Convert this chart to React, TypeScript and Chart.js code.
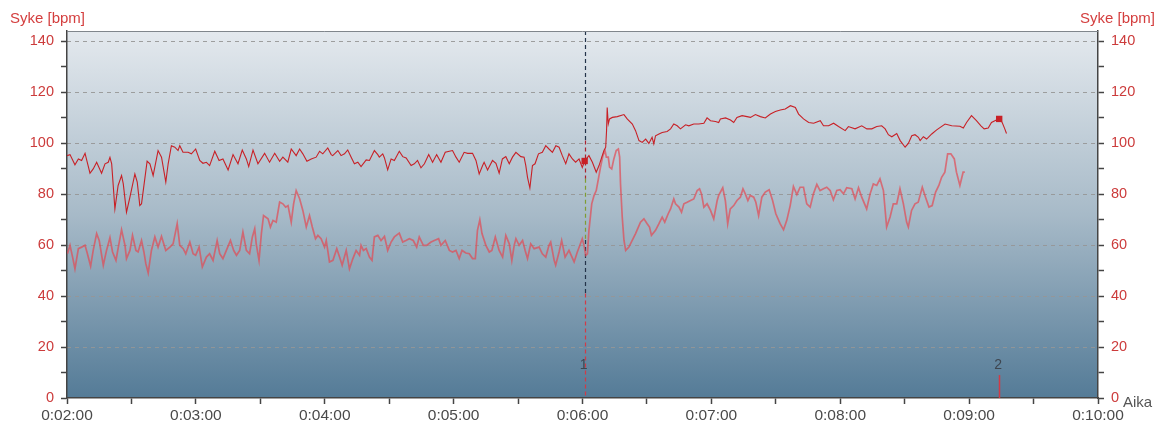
import React, { useEffect, useRef } from "react";
import { Chart, registerables } from "chart.js";
Chart.register(...registerables);

// Upper heart-rate trace (seconds, bpm)
const upperTimes = [
  120, 121.4, 123.7, 125.3, 126.8, 128.4, 130.7, 132.2, 133.8, 136.1, 137.7, 139.2, 140, 140.8, 142.3, 143.8,
  145.4, 146.2, 147.7, 149.3, 151.6, 152.7, 153.9, 154.7, 157.3, 158.6, 160.1, 162.4, 164, 166, 167.1, 168.6,
  170.2, 171.7, 172.5, 174, 176.4, 177.9, 179.9, 181.8, 183.3, 184.9, 186.4, 188.8, 190.8, 192.6, 195, 197.3,
  199.6, 201.6, 203.5, 204.6, 206.6, 208.9, 212, 214.3, 216.7, 219, 220.5, 222.8, 224.4, 226.7, 228.3, 229.8,
  231.7, 233.7, 236, 237.6, 239.1, 241.4, 243, 243.7, 246.1, 247.6, 249.2, 250.7, 252.3, 253.8, 255.4, 256.9,
  259.3, 260.8, 263.1, 264.7, 265.4, 267, 267.8, 269.3, 270.9, 272.4, 274.7, 276.3, 277.9, 280.2, 281.7, 283.2,
  284.8, 286.4, 288.4, 290.2, 292.1, 294.1, 296.1, 298, 299.5, 301.1, 302.6, 304.9, 306.5, 308.8, 310.4, 311.9,
  313.5, 314.2, 315.8, 318.1, 319.7, 321.2, 322.7, 324.3, 325.9, 327.4, 329, 331.3, 332.8, 333.6, 334.4, 335.5,
  336.7, 337.9, 339.5, 341.3, 342.9, 344.4, 346, 347.6, 349.1, 350.6, 352.2, 353.7, 355.3, 356.8, 358.4, 359.9,
  361, 363, 364.6, 366.4, 367.7, 369.2, 370, 370.8, 371.2, 371.5, 372, 372.6, 373.9, 376.2, 379.3, 380.8,
  383.2, 384.7, 386.3, 387.8, 389.4, 390.9, 392.4, 393.2, 394, 395.6, 397.1, 399.4, 401, 402.5, 404.1, 405.6,
  408, 409.5, 411.8, 414.1, 416.5, 418, 419.6, 421.9, 423.4, 424.2, 426.6, 428.9, 430.4, 431.9, 434.3, 436.6,
  438.2, 440.5, 442.8, 445.1, 447.5, 449.8, 452.1, 454.4, 456.8, 459.1, 460.6, 462.9, 465.3, 467.6, 470.7, 472.2,
  474.6, 476.9, 479.2, 482.3, 483.8, 486.9, 490, 492.4, 494.7, 497, 499.3, 500.9, 502.4, 504, 506.3, 507.9,
  510.2, 511.7, 513.3, 514.8, 516.4, 517.2, 518.7, 520.2, 522.6, 524.9, 528.8, 531.9, 535.7, 537.3, 538.8, 541.1,
  543.4, 545.5, 547, 548.9, 550.4, 552.7, 554, 555.4, 556.6, 557.4,
];
const upperBpm = [
  95.1, 95.5, 91.5, 93.8, 93.2, 96.0, 88.2, 89.9, 92.5, 88.2, 91.9, 92.5, 94.4, 91.9, 74.2, 83.4,
  87.3, 84.0, 72.9, 78.8, 87.9, 84.7, 75.5, 76.2, 92.9, 91.9, 87.3, 97.1, 94.5, 84.7, 91.9, 99.0,
  98.4, 97.1, 99.0, 96.4, 96.4, 95.8, 97.7, 93.2, 92.1, 92.5, 91.2, 96.8, 93.2, 93.8, 89.5, 95.5,
  91.9, 97.3, 93.8, 90.8, 97.3, 91.9, 96.0, 92.5, 96.0, 92.9, 94.5, 92.5, 97.7, 95.1, 97.7, 95.8,
  92.9, 93.8, 94.5, 96.8, 95.8, 98.1, 95.5, 95.1, 97.1, 95.1, 95.8, 97.3, 94.5, 91.9, 92.5, 90.8,
  93.4, 93.2, 97.1, 95.5, 94.5, 95.8, 94.2, 89.5, 93.8, 93.2, 96.8, 94.7, 94.2, 91.2, 91.9, 93.2,
  90.3, 91.9, 95.5, 92.5, 95.5, 92.5, 96.4, 96.8, 97.1, 94.5, 92.5, 96.4, 96.0, 96.0, 93.2, 87.9,
  91.2, 92.5, 89.5, 93.2, 92.1, 88.2, 93.8, 94.7, 91.9, 94.5, 96.4, 94.7, 94.5, 91.2, 86.6, 82.4,
  91.2, 91.9, 95.8, 96.4, 99.0, 97.7, 96.4, 99.0, 98.4, 95.1, 91.9, 95.8, 93.8, 92.5, 93.8, 90.5,
  93.0, 95.1, 92.5, 88.6, 91.2, 95.1, 97.1, 98.4, 104.9, 114.0, 107.5, 109.5, 110.1, 110.4, 111.2, 109.5,
  107.5, 104.9, 101.0, 100.3, 101.6, 99.9, 102.3, 99.7, 102.9, 103.6, 104.2, 104.6, 105.6, 107.5, 106.8, 105.6,
  107.2, 106.8, 107.5, 107.5, 107.8, 109.9, 108.8, 108.5, 108.1, 109.5, 109.9, 109.1, 108.1, 110.1, 110.8, 110.4,
  110.1, 111.2, 110.4, 109.9, 111.4, 112.4, 113.0, 113.4, 114.7, 114.0, 111.4, 109.5, 108.1, 107.8, 108.8, 106.8,
  106.8, 107.8, 106.5, 104.9, 106.5, 105.6, 106.8, 105.6, 105.6, 106.5, 106.8, 105.6, 103.3, 102.5, 103.8, 101.0,
  98.4, 99.9, 102.9, 103.3, 102.3, 101.0, 102.5, 101.6, 103.6, 105.2, 107.5, 106.8, 106.6, 105.9, 108.1, 110.8,
  108.8, 106.8, 105.6, 105.9, 108.1, 109.1, 109.5, 108.1, 105.6, 103.8,
];

// Lower heart-rate trace (seconds, bpm)
const lowerTimes = [
  120.2, 121.4, 122.6, 123.7, 125.3, 126.8, 128.4, 129.5, 131.0, 132.2, 133.8, 135.0, 136.9, 138.4, 140.0, 141.2,
  142.8, 143.9, 145.4, 147.0, 147.7, 149.3, 150.5, 152.1, 153.1, 154.7, 155.8, 156.7, 157.8, 159.3, 160.9, 162.4,
  164.0, 166.0, 167.9, 169.4, 171.3, 172.5, 174.1, 175.3, 177.2, 178.7, 179.9, 181.5, 183.0, 184.9, 186.4, 188.0,
  189.9, 191.1, 192.6, 194.2, 196.1, 197.6, 198.9, 200.4, 201.9, 203.5, 205.0, 206.3, 207.4, 208.1, 209.4, 210.5,
  211.5, 213.6, 214.7, 215.9, 217.4, 219.0, 220.5, 221.8, 222.9, 224.4, 225.5, 226.7, 228.3, 229.8, 231.4, 232.9,
  234.2, 235.7, 236.8, 238.3, 239.9, 240.7, 242.2, 243.8, 245.6, 246.9, 248.1, 250.0, 251.5, 253.1, 254.6, 256.2,
  256.9, 258.0, 259.3, 260.8, 262.0, 263.1, 264.7, 266.2, 267.8, 269.3, 270.9, 272.4, 274.7, 276.3, 277.8, 279.4,
  281.2, 282.8, 284.0, 285.9, 287.4, 289.5, 291.0, 293.0, 294.1, 296.1, 298.0, 299.5, 301.1, 302.6, 303.9, 305.7,
  307.3, 308.8, 310.1, 311.1, 312.2, 313.2, 315.0, 316.6, 317.8, 319.4, 321.2, 322.8, 324.3, 325.9, 327.1, 328.2,
  329.0, 330.5, 332.1, 333.3, 334.4, 335.9, 337.5, 339.8, 341.3, 342.9, 344.4, 345.2, 346.8, 347.5, 349.1, 350.3,
  351.9, 353.7, 356.1, 357.6, 359.9, 360.7, 361.5, 362.3, 363.0, 364.3, 365.4, 366.4, 367.4, 368.4, 369.5, 370.5,
  371.1, 372.0, 372.6, 373.6, 374.6, 375.7, 376.7, 377.3, 377.7, 378.5, 379.3, 380.1, 381.6, 383.2, 384.7, 387.0,
  388.6, 390.1, 391.2, 392.1, 394.0, 395.6, 397.1, 398.3, 399.9, 401.0, 402.5, 403.3, 404.9, 406.1, 407.2, 408.7,
  410.3, 411.8, 413.4, 414.5, 415.4, 416.5, 418.0, 419.6, 421.1, 422.7, 423.4, 425.3, 426.5, 427.6, 428.8, 430.4,
  431.9, 433.5, 434.7, 435.8, 437.0, 438.1, 439.7, 440.7, 442.0, 443.5, 445.1, 446.9, 448.5, 450.0, 452.0, 453.6,
  455.1, 456.7, 458.2, 459.8, 461.3, 462.9, 464.4, 466.0, 467.5, 469.1, 470.6, 472.2, 473.7, 475.3, 476.8, 478.4,
  479.9, 481.5, 483.0, 485.4, 486.9, 488.5, 490.0, 492.3, 493.9, 495.4, 497.0, 498.5, 500.1, 501.6, 503.2, 504.7,
  506.3, 507.8, 509.4, 510.9, 511.7, 513.2, 514.8, 516.3, 518.2, 519.7, 521.3, 522.8, 524.4, 525.9, 527.2, 528.7,
  530.0, 531.5, 533.1, 534.1, 535.7, 537.2, 538.0,
];
const lowerBpm = [
  56.6, 59.9, 55.3, 50.7, 58.6, 59.2, 59.9, 56.6, 51.7, 57.9, 64.5, 61.8, 52.1, 57.9, 62.9, 57.3,
  54.0, 59.2, 66.0, 59.9, 54.7, 57.9, 63.8, 57.9, 57.3, 61.8, 57.3, 52.7, 49.1, 57.9, 63.2, 59.2,
  63.4, 57.9, 59.2, 60.5, 68.4, 59.9, 58.6, 56.6, 61.2, 56.6, 56.0, 59.2, 51.4, 55.3, 56.6, 54.0,
  61.8, 56.6, 54.7, 57.9, 61.8, 57.9, 56.0, 57.9, 65.1, 57.9, 56.6, 63.2, 66.4, 60.5, 54.0, 64.5,
  71.6, 70.3, 67.1, 69.7, 69.0, 76.9, 76.2, 74.9, 75.5, 69.0, 76.2, 81.4, 78.2, 73.6, 67.1, 71.6,
  67.1, 62.5, 63.8, 62.5, 59.2, 61.8, 53.4, 54.0, 58.6, 55.3, 52.1, 57.9, 50.7, 54.7, 57.9, 56.0,
  59.9, 57.9, 58.6, 55.3, 54.0, 63.2, 63.8, 61.8, 63.4, 57.9, 61.2, 63.2, 64.7, 61.2, 61.8, 62.5,
  61.8, 59.2, 63.2, 59.9, 59.9, 61.2, 61.8, 62.5, 59.9, 61.8, 57.9, 57.3, 57.9, 54.7, 57.9, 56.9,
  56.6, 54.7, 54.7, 65.8, 69.9, 64.5, 59.9, 57.3, 57.9, 63.2, 57.9, 55.3, 63.8, 60.5, 54.0, 59.9,
  62.5, 59.9, 61.8, 57.9, 54.7, 60.5, 58.6, 59.2, 56.6, 55.3, 59.9, 61.2, 54.0, 52.1, 57.3, 61.8,
  55.3, 57.9, 53.4, 57.3, 62.5, 59.9, 56.0, 56.6, 65.8, 76.2, 79.5, 81.4, 86.0, 90.6, 95.1, 97.1,
  94.5, 94.5, 90.6, 89.9, 93.8, 97.1, 97.7, 94.5, 84.0, 71.0, 61.9, 57.9, 59.2, 61.9, 64.5, 69.0,
  70.3, 68.4, 67.1, 63.8, 65.8, 68.4, 71.0, 69.0, 72.3, 74.2, 78.1, 76.2, 74.9, 72.9, 76.2, 76.8,
  77.5, 78.1, 81.4, 82.1, 80.1, 74.9, 76.2, 73.6, 70.3, 77.5, 79.5, 82.5, 77.5, 68.4, 74.2, 75.5,
  77.5, 78.8, 82.1, 80.1, 77.5, 79.5, 78.8, 76.8, 71.6, 78.8, 80.8, 81.7, 77.5, 72.3, 68.4, 66.0,
  69.7, 75.5, 83.0, 79.8, 82.7, 82.7, 76.2, 74.9, 80.1, 83.8, 81.4, 82.1, 82.7, 81.4, 77.8, 81.4,
  81.7, 80.1, 82.5, 82.1, 78.1, 82.5, 78.8, 74.2, 80.1, 84.0, 83.4, 86.0, 81.4, 67.1, 71.0, 76.2,
  76.2, 82.1, 76.2, 69.0, 67.1, 73.6, 76.2, 76.8, 82.7, 78.8, 74.9, 75.5, 80.8, 83.4, 86.6, 88.6,
  95.8, 95.8, 93.8, 88.6, 83.4, 88.6, 88.6,
];

const lapTimes = [361, 554];
const lapLabels = ["1", "2"];
const gridValues = [20, 40, 60, 80, 100, 120, 140];
const yTitle = "Syke [bpm]";
const xTitle = "Aika";

const FONT = "'Liberation Sans', Arial, sans-serif";
const RED_TEXT = "#d43e3e";

function fmtTime(t: number) {
  const h = Math.floor(t / 3600);
  const m = Math.floor((t % 3600) / 60);
  const s = Math.round(t % 60);
  return `${h}:${String(m).padStart(2, "0")}:${String(s).padStart(2, "0")}`;
}

const decor = {
  id: "decor",
  beforeDraw(chart: any) {
    const { ctx, chartArea: a, width, height } = chart;
    ctx.save();
    ctx.fillStyle = "#ffffff";
    ctx.fillRect(0, 0, width, height);
    const g = ctx.createLinearGradient(0, a.top, 0, a.bottom);
    g.addColorStop(0, "#e4e9ee");
    g.addColorStop(0.5, "#a7bac8");
    g.addColorStop(1, "#547b97");
    ctx.fillStyle = g;
    ctx.fillRect(a.left, a.top, a.right - a.left, a.bottom - a.top);
    const ys = chart.scales.y;
    ctx.setLineDash([4, 4]);
    ctx.strokeStyle = "rgba(150,150,150,0.9)";
    ctx.lineWidth = 1;
    for (const v of gridValues) {
      const py = Math.round(ys.getPixelForValue(v)) + 0.5;
      ctx.beginPath();
      ctx.moveTo(a.left, py);
      ctx.lineTo(a.right, py);
      ctx.stroke();
    }
    ctx.restore();
  },
  beforeDatasetsDraw(chart: any) {
    const { ctx } = chart;
    const xs = chart.scales.x;
    const ys = chart.scales.y;
    ctx.save();
    const x1 = Math.round(xs.getPixelForValue(lapTimes[0])) + 0.5;
    const segs: [number, number, string][] = [
      [144, 101, "#24344a"],
      [101, 86, "#a8222f"],
      [86, 62, "#7f9c32"],
      [62, 41, "#24344a"],
      [41, 0, "#d23a46"],
    ];
    ctx.lineWidth = 1.2;
    ctx.setLineDash([4, 3]);
    for (const [a, b, c] of segs) {
      ctx.strokeStyle = c;
      ctx.beginPath();
      ctx.moveTo(x1, ys.getPixelForValue(a));
      ctx.lineTo(x1, ys.getPixelForValue(b));
      ctx.stroke();
    }
    ctx.setLineDash([]);
    const x2 = Math.round(xs.getPixelForValue(lapTimes[1])) + 0.5;
    ctx.strokeStyle = "#d23a46";
    ctx.lineWidth = 1.5;
    ctx.beginPath();
    ctx.moveTo(x2, ys.getPixelForValue(9));
    ctx.lineTo(x2, ys.getPixelForValue(0));
    ctx.stroke();
    ctx.fillStyle = "#3e4650";
    ctx.font = `14px ${FONT}`;
    ctx.textAlign = "center";
    ctx.textBaseline = "middle";
    lapTimes.forEach((t, i) => {
      ctx.fillText(lapLabels[i], xs.getPixelForValue(t) - 1, ys.getPixelForValue(12.8));
    });
    ctx.restore();
  },
  afterDraw(chart: any) {
    const { ctx, chartArea: a, width } = chart;
    ctx.save();
    ctx.strokeStyle = "#80868c";
    ctx.lineWidth = 1;
    ctx.beginPath();
    ctx.moveTo(a.left, a.top + 0.5);
    ctx.lineTo(a.right, a.top + 0.5);
    ctx.stroke();
    ctx.font = `15px ${FONT}`;
    ctx.fillStyle = RED_TEXT;
    ctx.textBaseline = "middle";
    ctx.textAlign = "left";
    ctx.fillText(yTitle, 10, 19);
    ctx.textAlign = "right";
    ctx.fillText(yTitle, width - 12, 19);
    ctx.fillStyle = "#555";
    ctx.textAlign = "left";
    ctx.fillText(xTitle, a.right + 25, a.bottom + 5);
    ctx.restore();
  },
};

export default function App() {
  const ref = useRef<HTMLCanvasElement | null>(null);
  useEffect(() => {
    document.body.style.margin = "0";
    const canvas = ref.current!;
    const upper = upperTimes.map((t, i) => ({ x: t, y: upperBpm[i] }));
    const lower = lowerTimes.map((t, i) => ({ x: t, y: lowerBpm[i] }));
    const yAxis = (pos: "left" | "right", w: number) => ({
      type: "linear",
      position: pos,
      min: 0,
      max: 144,
      afterFit: (s: any) => {
        s.width = w;
      },
      border: { display: true, color: "#444", width: 1.5 },
      grid: { drawOnChartArea: false, drawTicks: true, tickLength: 6, tickColor: "#444", tickWidth: 1.5 },
      ticks: {
        stepSize: 10,
        includeBounds: false,
        autoSkip: false,
        padding: 7,
        color: "#cc3b3b",
        font: { family: FONT, size: 14.5 },
        callback: (v: any) => (Number(v) % 20 === 0 ? String(v) : ""),
      },
    });
    const chart = new Chart(canvas, {
      type: "line",
      data: {
        datasets: [
          {
            data: upper,
            borderColor: "rgb(200,32,38)",
            backgroundColor: "rgb(200,32,38)",
            borderWidth: 1.1,
            pointStyle: "rect",
            pointRadius: (c: any) => (c.raw && lapTimes.includes(c.raw.x) ? 4.5 : 0),
            pointBorderWidth: 0,
            pointBackgroundColor: "rgb(200,32,38)",
            tension: 0,
            order: 0,
          },
          {
            data: lower,
            borderColor: "rgba(226,72,82,0.7)",
            borderWidth: 1.7,
            pointRadius: 0,
            tension: 0,
            order: 1,
          },
        ],
      },
      options: {
        animation: false,
        responsive: false,
        devicePixelRatio: 1,
        layout: { padding: { top: 31, left: 0, right: 0, bottom: 0 } },
        plugins: { legend: { display: false }, tooltip: { enabled: false } },
        scales: {
          x: {
            type: "linear",
            min: 120,
            max: 600,
            afterFit: (s: any) => {
              s.height = 25;
            },
            border: { display: true, color: "#444", width: 1.5 },
            grid: { drawOnChartArea: false, tickLength: 6, tickColor: "#444", tickWidth: 1.5 },
            ticks: {
              stepSize: 30,
              autoSkip: false,
              maxRotation: 0,
              padding: 2,
              color: "#4a4a4a",
              font: { family: FONT, size: 15.5 },
              callback: (v: any) => (Number(v) % 60 === 0 ? fmtTime(Number(v)) : ""),
            },
          },
          y: yAxis("left", 67),
          y2: yAxis("right", 69),
        } as any,
      },
      plugins: [decor],
    } as any);
    return () => chart.destroy();
  }, []);
  return <canvas ref={ref} width={1167} height={423} style={{ display: "block" }} />;
}
